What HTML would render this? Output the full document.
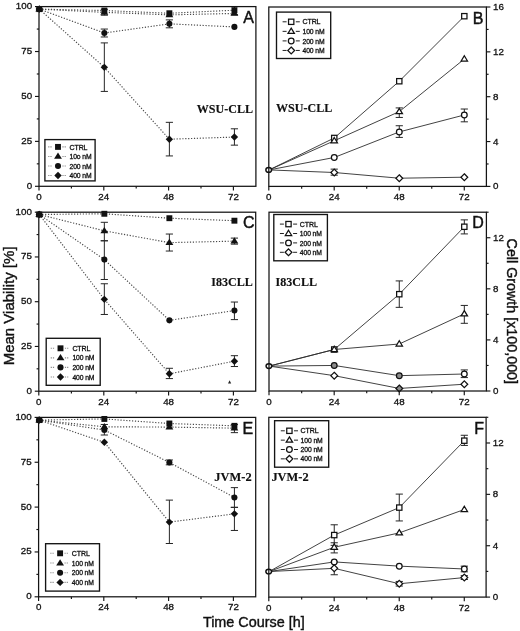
<!DOCTYPE html>
<html><head><meta charset="utf-8"><title>Figure</title>
<style>
html,body{margin:0;padding:0;background:#fff;}
body{width:520px;height:631px;overflow:hidden;}
svg{display:block;}
</style></head>
<body>
<svg width="520" height="631" viewBox="0 0 520 631">
<rect width="520" height="631" fill="#fff"/>
<g stroke="#262626" stroke-width="1" fill="none">
<line x1="234.42" y1="6.6" x2="234.42" y2="14.69"/><line x1="230.82" y1="6.6" x2="238.02" y2="6.6"/><line x1="230.82" y1="14.69" x2="238.02" y2="14.69"/>
<line x1="104.34" y1="9.3" x2="104.34" y2="15.23"/><line x1="100.74" y1="9.3" x2="107.94" y2="9.3"/><line x1="100.74" y1="15.23" x2="107.94" y2="15.23"/>
<line x1="104.34" y1="29.06" x2="104.34" y2="36.97"/><line x1="100.74" y1="29.06" x2="107.94" y2="29.06"/><line x1="100.74" y1="36.97" x2="107.94" y2="36.97"/>
<line x1="169.38" y1="19.9" x2="169.38" y2="27.8"/><line x1="165.78" y1="19.9" x2="172.98" y2="19.9"/><line x1="165.78" y1="27.8" x2="172.98" y2="27.8"/>
<line x1="104.34" y1="42.9" x2="104.34" y2="91.42"/><line x1="100.74" y1="42.9" x2="107.94" y2="42.9"/><line x1="100.74" y1="91.42" x2="107.94" y2="91.42"/>
<line x1="169.38" y1="122.33" x2="169.38" y2="155.93"/><line x1="165.78" y1="122.33" x2="172.98" y2="122.33"/><line x1="165.78" y1="155.93" x2="172.98" y2="155.93"/>
<line x1="234.42" y1="128.8" x2="234.42" y2="145.15"/><line x1="230.82" y1="128.8" x2="238.02" y2="128.8"/><line x1="230.82" y1="145.15" x2="238.02" y2="145.15"/>
</g>
<g stroke="#484848" stroke-width="1.15" fill="none" stroke-dasharray="1.2 1.7">
<polyline points="39.3,9.12 104.34,10.55 169.38,13.25 234.42,10.19"/>
<polyline points="39.3,9.12 104.34,12.35 169.38,14.87 234.42,13.43"/>
<polyline points="39.3,9.12 104.34,33.02 169.38,23.85 234.42,26.91"/>
<polyline points="39.3,9.12 104.34,67.34 169.38,139.22 234.42,137.06"/>
</g>
<rect x="36.35" y="6.17" width="5.9" height="5.9" fill="#111" stroke="#111" stroke-width="0"/>
<rect x="101.39" y="7.6" width="5.9" height="5.9" fill="#111" stroke="#111" stroke-width="0"/>
<rect x="166.43" y="10.3" width="5.9" height="5.9" fill="#111" stroke="#111" stroke-width="0"/>
<rect x="231.47" y="7.24" width="5.9" height="5.9" fill="#111" stroke="#111" stroke-width="0"/>
<polygon points="39.3,5.27 43.23,11.5 35.37,11.5" fill="#111" stroke="#111" stroke-width="0" stroke-linejoin="miter"/>
<polygon points="104.34,8.5 108.27,14.74 100.41,14.74" fill="#111" stroke="#111" stroke-width="0" stroke-linejoin="miter"/>
<polygon points="169.38,11.02 173.31,17.25 165.45,17.25" fill="#111" stroke="#111" stroke-width="0" stroke-linejoin="miter"/>
<polygon points="234.42,9.58 238.35,15.82 230.49,15.82" fill="#111" stroke="#111" stroke-width="0" stroke-linejoin="miter"/>
<circle cx="39.3" cy="9.12" r="3.05" fill="#111" stroke="#111" stroke-width="0"/>
<circle cx="104.34" cy="33.02" r="3.05" fill="#111" stroke="#111" stroke-width="0"/>
<circle cx="169.38" cy="23.85" r="3.05" fill="#111" stroke="#111" stroke-width="0"/>
<circle cx="234.42" cy="26.91" r="3.05" fill="#111" stroke="#111" stroke-width="0"/>
<polygon points="39.3,5.42 43,9.12 39.3,12.82 35.6,9.12" fill="#111" stroke="#111" stroke-width="0"/>
<polygon points="104.34,63.64 108.04,67.34 104.34,71.04 100.64,67.34" fill="#111" stroke="#111" stroke-width="0"/>
<polygon points="169.38,135.52 173.08,139.22 169.38,142.92 165.68,139.22" fill="#111" stroke="#111" stroke-width="0"/>
<polygon points="234.42,133.36 238.12,137.06 234.42,140.76 230.72,137.06" fill="#111" stroke="#111" stroke-width="0"/>
<rect x="39" y="6.6" width="216.9" height="179.7" fill="none" stroke="#141414" stroke-width="1.25"/>
<g stroke="#141414" stroke-width="1.15">
<line x1="39" y1="186.3" x2="39" y2="190.5"/>
<line x1="71.4" y1="186.3" x2="71.4" y2="188.6"/>
<line x1="103.8" y1="186.3" x2="103.8" y2="190.5"/>
<line x1="136.2" y1="186.3" x2="136.2" y2="188.6"/>
<line x1="168.6" y1="186.3" x2="168.6" y2="190.5"/>
<line x1="201" y1="186.3" x2="201" y2="188.6"/>
<line x1="233.4" y1="186.3" x2="233.4" y2="190.5"/>
<line x1="35" y1="186.3" x2="39" y2="186.3"/>
<line x1="36.8" y1="163.84" x2="39" y2="163.84"/>
<line x1="35" y1="141.38" x2="39" y2="141.38"/>
<line x1="36.8" y1="118.91" x2="39" y2="118.91"/>
<line x1="35" y1="96.45" x2="39" y2="96.45"/>
<line x1="36.8" y1="73.99" x2="39" y2="73.99"/>
<line x1="35" y1="51.53" x2="39" y2="51.53"/>
<line x1="36.8" y1="29.06" x2="39" y2="29.06"/>
<line x1="35" y1="6.6" x2="39" y2="6.6"/>
</g>
<g font-family="Liberation Sans, Arial, Helvetica, sans-serif" font-size="9.5" fill="#111" stroke="#111" stroke-width="0.3">
<text transform="translate(39,199.9) scale(1.03,1)" text-anchor="middle">0</text>
<text transform="translate(103.8,199.9) scale(1.03,1)" text-anchor="middle">24</text>
<text transform="translate(168.6,199.9) scale(1.03,1)" text-anchor="middle">48</text>
<text transform="translate(233.4,199.9) scale(1.03,1)" text-anchor="middle">72</text>
<text transform="translate(32.1,188.8) scale(1.03,1)" text-anchor="end">0</text>
<text transform="translate(32.1,143.88) scale(1.03,1)" text-anchor="end">25</text>
<text transform="translate(32.1,98.95) scale(1.03,1)" text-anchor="end">50</text>
<text transform="translate(32.1,54.03) scale(1.03,1)" text-anchor="end">75</text>
<text transform="translate(32.1,9.1) scale(1.03,1)" text-anchor="end">100</text>
</g>
<text x="243.2" y="22.8" font-family="Liberation Sans, Arial, Helvetica, sans-serif" font-size="16" fill="#111" stroke="#111" stroke-width="0.45">A</text>
<text transform="translate(196.8,112.8) scale(0.9,1)" font-family="Liberation Serif, Times New Roman, serif" font-weight="bold" font-size="13.4" fill="#111" stroke="#111" stroke-width="0.15">WSU-CLL</text>
<rect x="44.9" y="139.6" width="50.2" height="41.3" fill="#fff" stroke="#141414" stroke-width="1.35"/>
<g stroke="#8a8a8a" stroke-width="1.1" stroke-dasharray="1.2 1"><line x1="48.2" y1="146.9" x2="52.6" y2="146.9"/><line x1="62.4" y1="146.9" x2="66.6" y2="146.9"/></g>
<rect x="55.05" y="143.95" width="5.9" height="5.9" fill="#111" stroke="#111" stroke-width="0"/>
<text transform="translate(69.5,149.5) scale(1,1)" font-family="Liberation Sans, Arial, Helvetica, sans-serif" font-size="7" letter-spacing="-0.1" fill="#111" stroke="#111" stroke-width="0.3">CTRL</text>
<g stroke="#8a8a8a" stroke-width="1.1" stroke-dasharray="1.2 1"><line x1="48.2" y1="156.45" x2="52.6" y2="156.45"/><line x1="62.4" y1="156.45" x2="66.6" y2="156.45"/></g>
<polygon points="58,152.6 61.93,158.84 54.07,158.84" fill="#111" stroke="#111" stroke-width="0" stroke-linejoin="miter"/>
<text transform="translate(69.5,159.05) scale(0.97,1)" font-family="Liberation Sans, Arial, Helvetica, sans-serif" font-size="7" letter-spacing="-0.1" fill="#111" stroke="#111" stroke-width="0.3">10o nM</text>
<g stroke="#8a8a8a" stroke-width="1.1" stroke-dasharray="1.2 1"><line x1="48.2" y1="166" x2="52.6" y2="166"/><line x1="62.4" y1="166" x2="66.6" y2="166"/></g>
<circle cx="58" cy="166" r="3.05" fill="#111" stroke="#111" stroke-width="0"/>
<text transform="translate(69.5,168.6) scale(0.97,1)" font-family="Liberation Sans, Arial, Helvetica, sans-serif" font-size="7" letter-spacing="-0.1" fill="#111" stroke="#111" stroke-width="0.3">200 nM</text>
<g stroke="#8a8a8a" stroke-width="1.1" stroke-dasharray="1.2 1"><line x1="48.2" y1="175.55" x2="52.6" y2="175.55"/><line x1="62.4" y1="175.55" x2="66.6" y2="175.55"/></g>
<polygon points="58,171.85 61.7,175.55 58,179.25 54.3,175.55" fill="#111" stroke="#111" stroke-width="0"/>
<text transform="translate(69.5,178.15) scale(0.97,1)" font-family="Liberation Sans, Arial, Helvetica, sans-serif" font-size="7" letter-spacing="-0.1" fill="#111" stroke="#111" stroke-width="0.3">400 nM</text>
<g stroke="#262626" stroke-width="1" fill="none">
<line x1="104.34" y1="222.3" x2="104.34" y2="240.77"/><line x1="100.74" y1="222.3" x2="107.94" y2="222.3"/><line x1="100.74" y1="240.77" x2="107.94" y2="240.77"/>
<line x1="169.38" y1="234.04" x2="169.38" y2="251.04"/><line x1="165.78" y1="234.04" x2="172.98" y2="234.04"/><line x1="165.78" y1="251.04" x2="172.98" y2="251.04"/>
<line x1="234.42" y1="238.1" x2="234.42" y2="244.15"/><line x1="230.82" y1="238.1" x2="238.02" y2="238.1"/><line x1="230.82" y1="244.15" x2="238.02" y2="244.15"/>
<line x1="104.34" y1="240.77" x2="104.34" y2="279.49"/><line x1="100.74" y1="240.77" x2="107.94" y2="240.77"/><line x1="100.74" y1="279.49" x2="107.94" y2="279.49"/>
<line x1="234.42" y1="302.04" x2="234.42" y2="319.62"/><line x1="230.82" y1="302.04" x2="238.02" y2="302.04"/><line x1="230.82" y1="319.62" x2="238.02" y2="319.62"/>
<line x1="104.34" y1="283.75" x2="104.34" y2="314.48"/><line x1="100.74" y1="283.75" x2="107.94" y2="283.75"/><line x1="100.74" y1="314.48" x2="107.94" y2="314.48"/>
<line x1="169.38" y1="368.29" x2="169.38" y2="378.58"/><line x1="165.78" y1="368.29" x2="172.98" y2="368.29"/><line x1="165.78" y1="378.58" x2="172.98" y2="378.58"/>
<line x1="234.42" y1="355.69" x2="234.42" y2="366.52"/><line x1="230.82" y1="355.69" x2="238.02" y2="355.69"/><line x1="230.82" y1="366.52" x2="238.02" y2="366.52"/>
</g>
<g stroke="#484848" stroke-width="1.15" fill="none" stroke-dasharray="1.2 1.7">
<polyline points="39.3,214.49 104.34,213.78 169.38,218.21 234.42,220.7"/>
<polyline points="39.3,214.49 104.34,230.83 169.38,242.63 234.42,241.13"/>
<polyline points="39.3,214.49 104.34,259.6 169.38,320.33 234.42,310.56"/>
<polyline points="39.3,214.49 104.34,299.37 169.38,373.8 234.42,361.18"/>
</g>
<rect x="36.35" y="211.54" width="5.9" height="5.9" fill="#111" stroke="#111" stroke-width="0"/>
<rect x="101.39" y="210.83" width="5.9" height="5.9" fill="#111" stroke="#111" stroke-width="0"/>
<rect x="166.43" y="215.26" width="5.9" height="5.9" fill="#111" stroke="#111" stroke-width="0"/>
<rect x="231.47" y="217.75" width="5.9" height="5.9" fill="#111" stroke="#111" stroke-width="0"/>
<polygon points="39.3,210.64 43.23,216.88 35.37,216.88" fill="#111" stroke="#111" stroke-width="0" stroke-linejoin="miter"/>
<polygon points="104.34,226.98 108.27,233.22 100.41,233.22" fill="#111" stroke="#111" stroke-width="0" stroke-linejoin="miter"/>
<polygon points="169.38,238.78 173.31,245.02 165.45,245.02" fill="#111" stroke="#111" stroke-width="0" stroke-linejoin="miter"/>
<polygon points="234.42,237.28 238.35,243.51 230.49,243.51" fill="#111" stroke="#111" stroke-width="0" stroke-linejoin="miter"/>
<circle cx="39.3" cy="214.49" r="3.05" fill="#111" stroke="#111" stroke-width="0"/>
<circle cx="104.34" cy="259.6" r="3.05" fill="#111" stroke="#111" stroke-width="0"/>
<circle cx="169.38" cy="320.33" r="3.05" fill="#111" stroke="#111" stroke-width="0"/>
<circle cx="234.42" cy="310.56" r="3.05" fill="#111" stroke="#111" stroke-width="0"/>
<polygon points="39.3,210.79 43,214.49 39.3,218.19 35.6,214.49" fill="#111" stroke="#111" stroke-width="0"/>
<polygon points="104.34,295.67 108.04,299.37 104.34,303.07 100.64,299.37" fill="#111" stroke="#111" stroke-width="0"/>
<polygon points="169.38,370.1 173.08,373.8 169.38,377.5 165.68,373.8" fill="#111" stroke="#111" stroke-width="0"/>
<polygon points="234.42,357.48 238.12,361.18 234.42,364.88 230.72,361.18" fill="#111" stroke="#111" stroke-width="0"/>
<rect x="38.8" y="212.2" width="216.9" height="179" fill="none" stroke="#141414" stroke-width="1.25"/>
<g stroke="#141414" stroke-width="1.15">
<line x1="38.8" y1="391.2" x2="38.8" y2="395.4"/>
<line x1="71.4" y1="391.2" x2="71.4" y2="393.5"/>
<line x1="103.8" y1="391.2" x2="103.8" y2="395.4"/>
<line x1="136.2" y1="391.2" x2="136.2" y2="393.5"/>
<line x1="168.6" y1="391.2" x2="168.6" y2="395.4"/>
<line x1="201" y1="391.2" x2="201" y2="393.5"/>
<line x1="233.4" y1="391.2" x2="233.4" y2="395.4"/>
<line x1="34.8" y1="391.2" x2="38.8" y2="391.2"/>
<line x1="36.6" y1="368.82" x2="38.8" y2="368.82"/>
<line x1="34.8" y1="346.45" x2="38.8" y2="346.45"/>
<line x1="36.6" y1="324.07" x2="38.8" y2="324.07"/>
<line x1="34.8" y1="301.7" x2="38.8" y2="301.7"/>
<line x1="36.6" y1="279.32" x2="38.8" y2="279.32"/>
<line x1="34.8" y1="256.95" x2="38.8" y2="256.95"/>
<line x1="36.6" y1="234.57" x2="38.8" y2="234.57"/>
<line x1="34.8" y1="212.2" x2="38.8" y2="212.2"/>
</g>
<g font-family="Liberation Sans, Arial, Helvetica, sans-serif" font-size="9.5" fill="#111" stroke="#111" stroke-width="0.3">
<text transform="translate(38.8,404.8) scale(1.03,1)" text-anchor="middle">0</text>
<text transform="translate(103.8,404.8) scale(1.03,1)" text-anchor="middle">24</text>
<text transform="translate(168.6,404.8) scale(1.03,1)" text-anchor="middle">48</text>
<text transform="translate(233.4,404.8) scale(1.03,1)" text-anchor="middle">72</text>
<text transform="translate(31.9,393.7) scale(1.03,1)" text-anchor="end">0</text>
<text transform="translate(31.9,348.95) scale(1.03,1)" text-anchor="end">25</text>
<text transform="translate(31.9,304.2) scale(1.03,1)" text-anchor="end">50</text>
<text transform="translate(31.9,259.45) scale(1.03,1)" text-anchor="end">75</text>
<text transform="translate(31.9,214.7) scale(1.03,1)" text-anchor="end">100</text>
</g>
<text x="243.1" y="227.5" font-family="Liberation Sans, Arial, Helvetica, sans-serif" font-size="16" fill="#111" stroke="#111" stroke-width="0.45">C</text>
<text transform="translate(211.2,286.1) scale(0.9,1)" font-family="Liberation Serif, Times New Roman, serif" font-weight="bold" font-size="13.4" fill="#111" stroke="#111" stroke-width="0.15">I83CLL</text>
<rect x="46.2" y="338.3" width="54" height="47" fill="#fff" stroke="#141414" stroke-width="1.35"/>
<g stroke="#8a8a8a" stroke-width="1.1" stroke-dasharray="1.2 1"><line x1="50.7" y1="348.3" x2="55.1" y2="348.3"/><line x1="64.9" y1="348.3" x2="69.1" y2="348.3"/></g>
<rect x="57.55" y="345.35" width="5.9" height="5.9" fill="#111" stroke="#111" stroke-width="0"/>
<text transform="translate(72.4,350.9) scale(1,1)" font-family="Liberation Sans, Arial, Helvetica, sans-serif" font-size="7" letter-spacing="-0.1" fill="#111" stroke="#111" stroke-width="0.3">CTRL</text>
<g stroke="#8a8a8a" stroke-width="1.1" stroke-dasharray="1.2 1"><line x1="50.7" y1="357.85" x2="55.1" y2="357.85"/><line x1="64.9" y1="357.85" x2="69.1" y2="357.85"/></g>
<polygon points="60.5,354 64.43,360.24 56.57,360.24" fill="#111" stroke="#111" stroke-width="0" stroke-linejoin="miter"/>
<text transform="translate(72.4,360.45) scale(0.97,1)" font-family="Liberation Sans, Arial, Helvetica, sans-serif" font-size="7" letter-spacing="-0.1" fill="#111" stroke="#111" stroke-width="0.3">100 nM</text>
<g stroke="#8a8a8a" stroke-width="1.1" stroke-dasharray="1.2 1"><line x1="50.7" y1="367.4" x2="55.1" y2="367.4"/><line x1="64.9" y1="367.4" x2="69.1" y2="367.4"/></g>
<circle cx="60.5" cy="367.4" r="3.05" fill="#111" stroke="#111" stroke-width="0"/>
<text transform="translate(72.4,370) scale(0.97,1)" font-family="Liberation Sans, Arial, Helvetica, sans-serif" font-size="7" letter-spacing="-0.1" fill="#111" stroke="#111" stroke-width="0.3">200 nM</text>
<g stroke="#8a8a8a" stroke-width="1.1" stroke-dasharray="1.2 1"><line x1="50.7" y1="376.95" x2="55.1" y2="376.95"/><line x1="64.9" y1="376.95" x2="69.1" y2="376.95"/></g>
<polygon points="60.5,373.25 64.2,376.95 60.5,380.65 56.8,376.95" fill="#111" stroke="#111" stroke-width="0"/>
<text transform="translate(72.4,379.55) scale(0.97,1)" font-family="Liberation Sans, Arial, Helvetica, sans-serif" font-size="7" letter-spacing="-0.1" fill="#111" stroke="#111" stroke-width="0.3">400 nM</text>
<g stroke="#262626" stroke-width="1" fill="none">
<line x1="234.42" y1="424.58" x2="234.42" y2="432.65"/><line x1="230.82" y1="424.58" x2="238.02" y2="424.58"/><line x1="230.82" y1="432.65" x2="238.02" y2="432.65"/>
<line x1="104.34" y1="424.47" x2="104.34" y2="435"/><line x1="100.74" y1="424.47" x2="107.94" y2="424.47"/><line x1="100.74" y1="435" x2="107.94" y2="435"/>
<line x1="169.38" y1="459.97" x2="169.38" y2="464.8"/><line x1="165.78" y1="459.97" x2="172.98" y2="459.97"/><line x1="165.78" y1="464.8" x2="172.98" y2="464.8"/>
<line x1="234.42" y1="487.64" x2="234.42" y2="507.26"/><line x1="230.82" y1="487.64" x2="238.02" y2="487.64"/><line x1="230.82" y1="507.26" x2="238.02" y2="507.26"/>
<line x1="169.38" y1="500.12" x2="169.38" y2="543.5"/><line x1="165.78" y1="500.12" x2="172.98" y2="500.12"/><line x1="165.78" y1="543.5" x2="172.98" y2="543.5"/>
<line x1="234.42" y1="507.44" x2="234.42" y2="530.46"/><line x1="230.82" y1="507.44" x2="238.02" y2="507.44"/><line x1="230.82" y1="530.46" x2="238.02" y2="530.46"/>
</g>
<g stroke="#484848" stroke-width="1.15" fill="none" stroke-dasharray="1.2 1.7">
<polyline points="39.3,420.09 104.34,418.94 169.38,423.5 234.42,425.83"/>
<polyline points="39.3,420.09 104.34,426.78 169.38,427.09 234.42,428.16"/>
<polyline points="39.3,420.09 104.34,429.99 169.38,462.48 234.42,497.45"/>
<polyline points="39.3,420.09 104.34,442.32 169.38,522.08 234.42,513.86"/>
</g>
<rect x="36.35" y="417.14" width="5.9" height="5.9" fill="#111" stroke="#111" stroke-width="0"/>
<rect x="101.39" y="415.99" width="5.9" height="5.9" fill="#111" stroke="#111" stroke-width="0"/>
<rect x="166.43" y="420.55" width="5.9" height="5.9" fill="#111" stroke="#111" stroke-width="0"/>
<rect x="231.47" y="422.88" width="5.9" height="5.9" fill="#111" stroke="#111" stroke-width="0"/>
<polygon points="39.3,416.24 43.23,422.48 35.37,422.48" fill="#111" stroke="#111" stroke-width="0" stroke-linejoin="miter"/>
<polygon points="104.34,422.93 108.27,429.17 100.41,429.17" fill="#111" stroke="#111" stroke-width="0" stroke-linejoin="miter"/>
<polygon points="169.38,423.24 173.31,429.47 165.45,429.47" fill="#111" stroke="#111" stroke-width="0" stroke-linejoin="miter"/>
<polygon points="234.42,424.31 238.35,430.55 230.49,430.55" fill="#111" stroke="#111" stroke-width="0" stroke-linejoin="miter"/>
<circle cx="39.3" cy="420.09" r="3.05" fill="#111" stroke="#111" stroke-width="0"/>
<circle cx="104.34" cy="429.99" r="3.05" fill="#111" stroke="#111" stroke-width="0"/>
<circle cx="169.38" cy="462.48" r="3.05" fill="#111" stroke="#111" stroke-width="0"/>
<circle cx="234.42" cy="497.45" r="3.05" fill="#111" stroke="#111" stroke-width="0"/>
<polygon points="39.3,416.39 43,420.09 39.3,423.79 35.6,420.09" fill="#111" stroke="#111" stroke-width="0"/>
<polygon points="104.34,438.62 108.04,442.32 104.34,446.02 100.64,442.32" fill="#111" stroke="#111" stroke-width="0"/>
<polygon points="169.38,518.38 173.08,522.08 169.38,525.78 165.68,522.08" fill="#111" stroke="#111" stroke-width="0"/>
<polygon points="234.42,510.16 238.12,513.86 234.42,517.56 230.72,513.86" fill="#111" stroke="#111" stroke-width="0"/>
<rect x="38.6" y="417.4" width="217.1" height="179.4" fill="none" stroke="#141414" stroke-width="1.25"/>
<g stroke="#141414" stroke-width="1.15">
<line x1="38.6" y1="596.8" x2="38.6" y2="601"/>
<line x1="71.4" y1="596.8" x2="71.4" y2="599.1"/>
<line x1="103.8" y1="596.8" x2="103.8" y2="601"/>
<line x1="136.2" y1="596.8" x2="136.2" y2="599.1"/>
<line x1="168.6" y1="596.8" x2="168.6" y2="601"/>
<line x1="201" y1="596.8" x2="201" y2="599.1"/>
<line x1="233.4" y1="596.8" x2="233.4" y2="601"/>
<line x1="34.6" y1="596.8" x2="38.6" y2="596.8"/>
<line x1="36.4" y1="574.38" x2="38.6" y2="574.38"/>
<line x1="34.6" y1="551.95" x2="38.6" y2="551.95"/>
<line x1="36.4" y1="529.52" x2="38.6" y2="529.52"/>
<line x1="34.6" y1="507.1" x2="38.6" y2="507.1"/>
<line x1="36.4" y1="484.67" x2="38.6" y2="484.67"/>
<line x1="34.6" y1="462.25" x2="38.6" y2="462.25"/>
<line x1="36.4" y1="439.82" x2="38.6" y2="439.82"/>
<line x1="34.6" y1="417.4" x2="38.6" y2="417.4"/>
</g>
<g font-family="Liberation Sans, Arial, Helvetica, sans-serif" font-size="9.5" fill="#111" stroke="#111" stroke-width="0.3">
<text transform="translate(38.6,610.4) scale(1.03,1)" text-anchor="middle">0</text>
<text transform="translate(103.8,610.4) scale(1.03,1)" text-anchor="middle">24</text>
<text transform="translate(168.6,610.4) scale(1.03,1)" text-anchor="middle">48</text>
<text transform="translate(233.4,610.4) scale(1.03,1)" text-anchor="middle">72</text>
<text transform="translate(31.7,599.3) scale(1.03,1)" text-anchor="end">0</text>
<text transform="translate(31.7,554.45) scale(1.03,1)" text-anchor="end">25</text>
<text transform="translate(31.7,509.6) scale(1.03,1)" text-anchor="end">50</text>
<text transform="translate(31.7,464.75) scale(1.03,1)" text-anchor="end">75</text>
<text transform="translate(31.7,419.9) scale(1.03,1)" text-anchor="end">100</text>
</g>
<text x="242.6" y="434.2" font-family="Liberation Sans, Arial, Helvetica, sans-serif" font-size="16" fill="#111" stroke="#111" stroke-width="0.45">E</text>
<text transform="translate(214.3,480.6) scale(0.93,1)" font-family="Liberation Serif, Times New Roman, serif" font-weight="bold" font-size="13.4" fill="#111" stroke="#111" stroke-width="0.15">JVM-2</text>
<rect x="45.6" y="543.7" width="53.9" height="47.4" fill="#fff" stroke="#141414" stroke-width="1.35"/>
<g stroke="#8a8a8a" stroke-width="1.1" stroke-dasharray="1.2 1"><line x1="50.3" y1="553.3" x2="54.7" y2="553.3"/><line x1="64.5" y1="553.3" x2="68.7" y2="553.3"/></g>
<rect x="57.15" y="550.35" width="5.9" height="5.9" fill="#111" stroke="#111" stroke-width="0"/>
<text transform="translate(71.8,555.9) scale(1,1)" font-family="Liberation Sans, Arial, Helvetica, sans-serif" font-size="7" letter-spacing="-0.1" fill="#111" stroke="#111" stroke-width="0.3">CTRL</text>
<g stroke="#8a8a8a" stroke-width="1.1" stroke-dasharray="1.2 1"><line x1="50.3" y1="563" x2="54.7" y2="563"/><line x1="64.5" y1="563" x2="68.7" y2="563"/></g>
<polygon points="60.1,559.15 64.03,565.39 56.17,565.39" fill="#111" stroke="#111" stroke-width="0" stroke-linejoin="miter"/>
<text transform="translate(71.8,565.6) scale(0.97,1)" font-family="Liberation Sans, Arial, Helvetica, sans-serif" font-size="7" letter-spacing="-0.1" fill="#111" stroke="#111" stroke-width="0.3">100 nM</text>
<g stroke="#8a8a8a" stroke-width="1.1" stroke-dasharray="1.2 1"><line x1="50.3" y1="572.7" x2="54.7" y2="572.7"/><line x1="64.5" y1="572.7" x2="68.7" y2="572.7"/></g>
<circle cx="60.1" cy="572.7" r="3.05" fill="#111" stroke="#111" stroke-width="0"/>
<text transform="translate(71.8,575.3) scale(0.97,1)" font-family="Liberation Sans, Arial, Helvetica, sans-serif" font-size="7" letter-spacing="-0.1" fill="#111" stroke="#111" stroke-width="0.3">200 nM</text>
<g stroke="#8a8a8a" stroke-width="1.1" stroke-dasharray="1.2 1"><line x1="50.3" y1="582.4" x2="54.7" y2="582.4"/><line x1="64.5" y1="582.4" x2="68.7" y2="582.4"/></g>
<polygon points="60.1,578.7 63.8,582.4 60.1,586.1 56.4,582.4" fill="#111" stroke="#111" stroke-width="0"/>
<text transform="translate(71.8,585) scale(0.97,1)" font-family="Liberation Sans, Arial, Helvetica, sans-serif" font-size="7" letter-spacing="-0.1" fill="#111" stroke="#111" stroke-width="0.3">400 nM</text>
<g stroke="#262626" stroke-width="1" fill="none">
<line x1="399.28" y1="107.91" x2="399.28" y2="117.44"/><line x1="395.68" y1="107.91" x2="402.88" y2="107.91"/><line x1="395.68" y1="117.44" x2="402.88" y2="117.44"/>
<line x1="399.28" y1="125.74" x2="399.28" y2="137.4"/><line x1="395.68" y1="125.74" x2="402.88" y2="125.74"/><line x1="395.68" y1="137.4" x2="402.88" y2="137.4"/>
<line x1="464.32" y1="109.03" x2="464.32" y2="121.82"/><line x1="460.72" y1="109.03" x2="467.92" y2="109.03"/><line x1="460.72" y1="121.82" x2="467.92" y2="121.82"/>
<line x1="334.24" y1="169.13" x2="334.24" y2="175.19"/><line x1="330.64" y1="169.13" x2="337.84" y2="169.13"/><line x1="330.64" y1="175.19" x2="337.84" y2="175.19"/>
</g>
<g stroke="#2e2e2e" stroke-width="0.9" fill="none">
<polyline points="269.2,169.92 334.24,137.96 399.28,81.23 464.32,16.19"/>
<polyline points="269.2,169.92 334.24,140.77 399.28,111.61 464.32,59.03"/>
<polyline points="269.2,169.92 334.24,157.47 399.28,131.91 464.32,114.98"/>
<polyline points="269.2,169.92 334.24,172.5 399.28,178.21 464.32,177.21"/>
</g>
<rect x="331.59" y="135.31" width="5.3" height="5.3" fill="#fff" stroke="#111" stroke-width="1.25"/>
<rect x="396.63" y="78.58" width="5.3" height="5.3" fill="#fff" stroke="#111" stroke-width="1.25"/>
<rect x="461.67" y="13.54" width="5.3" height="5.3" fill="#fff" stroke="#111" stroke-width="1.25"/>
<polygon points="334.24,137.52 337.43,142.78 331.06,142.78" fill="#fff" stroke="#111" stroke-width="1.25" stroke-linejoin="miter"/>
<polygon points="399.28,108.36 402.46,113.63 396.09,113.63" fill="#fff" stroke="#111" stroke-width="1.25" stroke-linejoin="miter"/>
<polygon points="464.32,55.78 467.5,61.04 461.13,61.04" fill="#fff" stroke="#111" stroke-width="1.25" stroke-linejoin="miter"/>
<circle cx="334.24" cy="157.47" r="2.85" fill="#fff" stroke="#111" stroke-width="1.25"/>
<circle cx="399.28" cy="131.91" r="2.85" fill="#fff" stroke="#111" stroke-width="1.25"/>
<circle cx="464.32" cy="114.98" r="2.85" fill="#fff" stroke="#111" stroke-width="1.25"/>
<polygon points="334.24,169.1 337.64,172.5 334.24,175.9 330.84,172.5" fill="#fff" stroke="#111" stroke-width="1.25"/>
<polygon points="399.28,174.81 402.68,178.21 399.28,181.61 395.88,178.21" fill="#fff" stroke="#111" stroke-width="1.25"/>
<polygon points="464.32,173.81 467.72,177.21 464.32,180.61 460.92,177.21" fill="#fff" stroke="#111" stroke-width="1.25"/>
<ellipse cx="268.7" cy="169.92" rx="2.85" ry="2.35" fill="#fff" stroke="#111" stroke-width="1.45"/>
<rect x="268.8" y="7" width="217.6" height="179.4" fill="none" stroke="#141414" stroke-width="1.25"/>
<g stroke="#141414" stroke-width="1.15">
<line x1="268.8" y1="186.4" x2="268.8" y2="190.6"/>
<line x1="301.67" y1="186.4" x2="301.67" y2="188.7"/>
<line x1="334.19" y1="186.4" x2="334.19" y2="190.6"/>
<line x1="366.71" y1="186.4" x2="366.71" y2="188.7"/>
<line x1="399.23" y1="186.4" x2="399.23" y2="190.6"/>
<line x1="431.75" y1="186.4" x2="431.75" y2="188.7"/>
<line x1="464.27" y1="186.4" x2="464.27" y2="190.6"/>
<line x1="486.4" y1="186.4" x2="490.4" y2="186.4"/>
<line x1="486.4" y1="163.97" x2="488.6" y2="163.97"/>
<line x1="486.4" y1="141.55" x2="490.4" y2="141.55"/>
<line x1="486.4" y1="119.12" x2="488.6" y2="119.12"/>
<line x1="486.4" y1="96.7" x2="490.4" y2="96.7"/>
<line x1="486.4" y1="74.28" x2="488.6" y2="74.28"/>
<line x1="486.4" y1="51.85" x2="490.4" y2="51.85"/>
<line x1="486.4" y1="29.43" x2="488.6" y2="29.43"/>
<line x1="486.4" y1="7" x2="490.4" y2="7"/>
</g>
<g font-family="Liberation Sans, Arial, Helvetica, sans-serif" font-size="9.5" fill="#111" stroke="#111" stroke-width="0.3">
<text transform="translate(268.8,200) scale(1.03,1)" text-anchor="middle">0</text>
<text transform="translate(334.19,200) scale(1.03,1)" text-anchor="middle">24</text>
<text transform="translate(399.23,200) scale(1.03,1)" text-anchor="middle">48</text>
<text transform="translate(464.27,200) scale(1.03,1)" text-anchor="middle">72</text>
<text transform="translate(493,189.4) scale(1.03,1)">0</text>
<text transform="translate(493,144.55) scale(1.03,1)">4</text>
<text transform="translate(493,99.7) scale(1.03,1)">8</text>
<text transform="translate(493,54.85) scale(1.03,1)">12</text>
<text transform="translate(493,10) scale(1.03,1)">16</text>
</g>
<text x="472.8" y="23.9" font-family="Liberation Sans, Arial, Helvetica, sans-serif" font-size="16" fill="#111" stroke="#111" stroke-width="0.45">B</text>
<text transform="translate(276,111.9) scale(0.9,1)" font-family="Liberation Serif, Times New Roman, serif" font-weight="bold" font-size="13.4" fill="#111" stroke="#111" stroke-width="0.15">WSU-CLL</text>
<rect x="276.5" y="12.1" width="54.2" height="46.4" fill="#fff" stroke="#141414" stroke-width="1.35"/>
<g stroke="#222" stroke-width="1"><line x1="282.6" y1="21.8" x2="286.6" y2="21.8"/><line x1="295.8" y1="21.8" x2="299.8" y2="21.8"/></g>
<rect x="288.55" y="19.15" width="5.3" height="5.3" fill="#fff" stroke="#111" stroke-width="1.25"/>
<text transform="translate(302.5,24.4) scale(1,1)" font-family="Liberation Sans, Arial, Helvetica, sans-serif" font-size="7" letter-spacing="-0.1" fill="#111" stroke="#111" stroke-width="0.3">CTRL</text>
<g stroke="#222" stroke-width="1"><line x1="282.6" y1="31.35" x2="286.6" y2="31.35"/><line x1="295.8" y1="31.35" x2="299.8" y2="31.35"/></g>
<polygon points="291.2,28.1 294.38,33.37 288.01,33.37" fill="#fff" stroke="#111" stroke-width="1.25" stroke-linejoin="miter"/>
<text transform="translate(302.5,33.95) scale(0.97,1)" font-family="Liberation Sans, Arial, Helvetica, sans-serif" font-size="7" letter-spacing="-0.1" fill="#111" stroke="#111" stroke-width="0.3">100 nM</text>
<g stroke="#222" stroke-width="1"><line x1="282.6" y1="40.9" x2="286.6" y2="40.9"/><line x1="295.8" y1="40.9" x2="299.8" y2="40.9"/></g>
<circle cx="291.2" cy="40.9" r="2.85" fill="#fff" stroke="#111" stroke-width="1.25"/>
<text transform="translate(302.5,43.5) scale(0.97,1)" font-family="Liberation Sans, Arial, Helvetica, sans-serif" font-size="7" letter-spacing="-0.1" fill="#111" stroke="#111" stroke-width="0.3">200 nM</text>
<g stroke="#222" stroke-width="1"><line x1="282.6" y1="50.45" x2="286.6" y2="50.45"/><line x1="295.8" y1="50.45" x2="299.8" y2="50.45"/></g>
<polygon points="291.2,47.05 294.6,50.45 291.2,53.85 287.8,50.45" fill="#fff" stroke="#111" stroke-width="1.25"/>
<text transform="translate(302.5,53.05) scale(0.97,1)" font-family="Liberation Sans, Arial, Helvetica, sans-serif" font-size="7" letter-spacing="-0.1" fill="#111" stroke="#111" stroke-width="0.3">400 nM</text>
<g stroke="#262626" stroke-width="1" fill="none">
<line x1="399.28" y1="280.91" x2="399.28" y2="307.35"/><line x1="395.68" y1="280.91" x2="402.88" y2="280.91"/><line x1="395.68" y1="307.35" x2="402.88" y2="307.35"/>
<line x1="464.32" y1="219.86" x2="464.32" y2="233.91"/><line x1="460.72" y1="219.86" x2="467.92" y2="219.86"/><line x1="460.72" y1="233.91" x2="467.92" y2="233.91"/>
<line x1="464.32" y1="305.43" x2="464.32" y2="323.31"/><line x1="460.72" y1="305.43" x2="467.92" y2="305.43"/><line x1="460.72" y1="323.31" x2="467.92" y2="323.31"/>
<line x1="464.32" y1="369.93" x2="464.32" y2="377.59"/><line x1="460.72" y1="369.93" x2="467.92" y2="369.93"/><line x1="460.72" y1="377.59" x2="467.92" y2="377.59"/>
</g>
<g stroke="#2e2e2e" stroke-width="0.9" fill="none">
<polyline points="269.2,366.1 334.24,349.49 399.28,294.19 464.32,226.76"/>
<polyline points="269.2,366.1 334.24,349.49 399.28,344 464.32,313.86"/>
<polyline points="269.2,366.1 334.24,365.46 399.28,375.67 464.32,374.01"/>
<polyline points="269.2,366.1 334.24,375.67 399.28,388.45 464.32,384.23"/>
</g>
<rect x="331.59" y="346.84" width="5.3" height="5.3" fill="#fff" stroke="#111" stroke-width="1.25"/>
<rect x="396.63" y="291.54" width="5.3" height="5.3" fill="#fff" stroke="#111" stroke-width="1.25"/>
<rect x="461.67" y="224.11" width="5.3" height="5.3" fill="#fff" stroke="#111" stroke-width="1.25"/>
<polygon points="334.24,346.24 337.43,351.51 331.06,351.51" fill="#fff" stroke="#111" stroke-width="1.25" stroke-linejoin="miter"/>
<polygon points="399.28,340.75 402.46,346.02 396.09,346.02" fill="#fff" stroke="#111" stroke-width="1.25" stroke-linejoin="miter"/>
<polygon points="464.32,310.61 467.5,315.88 461.13,315.88" fill="#fff" stroke="#111" stroke-width="1.25" stroke-linejoin="miter"/>
<circle cx="334.24" cy="365.46" r="2.85" fill="#8c8c8c" stroke="#111" stroke-width="1.25"/>
<circle cx="399.28" cy="375.67" r="2.85" fill="#8c8c8c" stroke="#111" stroke-width="1.25"/>
<circle cx="464.32" cy="374.01" r="2.85" fill="#fff" stroke="#111" stroke-width="1.25"/>
<polygon points="334.24,372.27 337.64,375.67 334.24,379.07 330.84,375.67" fill="#fff" stroke="#111" stroke-width="1.25"/>
<polygon points="399.28,385.05 402.68,388.45 399.28,391.85 395.88,388.45" fill="#8c8c8c" stroke="#111" stroke-width="1.25"/>
<polygon points="464.32,380.83 467.72,384.23 464.32,387.63 460.92,384.23" fill="#fff" stroke="#111" stroke-width="1.25"/>
<ellipse cx="268.9" cy="366.1" rx="2.85" ry="2.35" fill="#fff" stroke="#111" stroke-width="1.45"/>
<rect x="269" y="212.2" width="217.4" height="178.8" fill="none" stroke="#141414" stroke-width="1.25"/>
<g stroke="#141414" stroke-width="1.15">
<line x1="269" y1="391" x2="269" y2="395.2"/>
<line x1="301.67" y1="391" x2="301.67" y2="393.3"/>
<line x1="334.19" y1="391" x2="334.19" y2="395.2"/>
<line x1="366.71" y1="391" x2="366.71" y2="393.3"/>
<line x1="399.23" y1="391" x2="399.23" y2="395.2"/>
<line x1="431.75" y1="391" x2="431.75" y2="393.3"/>
<line x1="464.27" y1="391" x2="464.27" y2="395.2"/>
<line x1="486.4" y1="391" x2="490.4" y2="391"/>
<line x1="486.4" y1="365.46" x2="488.6" y2="365.46"/>
<line x1="486.4" y1="339.91" x2="490.4" y2="339.91"/>
<line x1="486.4" y1="314.37" x2="488.6" y2="314.37"/>
<line x1="486.4" y1="288.83" x2="490.4" y2="288.83"/>
<line x1="486.4" y1="263.29" x2="488.6" y2="263.29"/>
<line x1="486.4" y1="237.74" x2="490.4" y2="237.74"/>
<line x1="486.4" y1="212.2" x2="488.6" y2="212.2"/>
</g>
<g font-family="Liberation Sans, Arial, Helvetica, sans-serif" font-size="9.5" fill="#111" stroke="#111" stroke-width="0.3">
<text transform="translate(269,404.6) scale(1.03,1)" text-anchor="middle">0</text>
<text transform="translate(334.19,404.6) scale(1.03,1)" text-anchor="middle">24</text>
<text transform="translate(399.23,404.6) scale(1.03,1)" text-anchor="middle">48</text>
<text transform="translate(464.27,404.6) scale(1.03,1)" text-anchor="middle">72</text>
<text transform="translate(493,394) scale(1.03,1)">0</text>
<text transform="translate(493,342.91) scale(1.03,1)">4</text>
<text transform="translate(493,291.83) scale(1.03,1)">8</text>
<text transform="translate(493,240.74) scale(1.03,1)">12</text>
</g>
<text x="472.3" y="227.8" font-family="Liberation Sans, Arial, Helvetica, sans-serif" font-size="16" fill="#111" stroke="#111" stroke-width="0.45">D</text>
<text transform="translate(275.5,285.9) scale(0.9,1)" font-family="Liberation Serif, Times New Roman, serif" font-weight="bold" font-size="13.4" fill="#111" stroke="#111" stroke-width="0.15">I83CLL</text>
<rect x="273.8" y="214.5" width="53.6" height="46.3" fill="#fff" stroke="#141414" stroke-width="1.35"/>
<g stroke="#222" stroke-width="1"><line x1="279.9" y1="224.1" x2="283.9" y2="224.1"/><line x1="293.1" y1="224.1" x2="297.1" y2="224.1"/></g>
<rect x="285.85" y="221.45" width="5.3" height="5.3" fill="#fff" stroke="#111" stroke-width="1.25"/>
<text transform="translate(299.8,226.7) scale(1,1)" font-family="Liberation Sans, Arial, Helvetica, sans-serif" font-size="7" letter-spacing="-0.1" fill="#111" stroke="#111" stroke-width="0.3">CTRL</text>
<g stroke="#222" stroke-width="1"><line x1="279.9" y1="233.5" x2="283.9" y2="233.5"/><line x1="293.1" y1="233.5" x2="297.1" y2="233.5"/></g>
<polygon points="288.5,230.25 291.69,235.51 285.31,235.51" fill="#fff" stroke="#111" stroke-width="1.25" stroke-linejoin="miter"/>
<text transform="translate(299.8,236.1) scale(0.97,1)" font-family="Liberation Sans, Arial, Helvetica, sans-serif" font-size="7" letter-spacing="-0.1" fill="#111" stroke="#111" stroke-width="0.3">100 nM</text>
<g stroke="#222" stroke-width="1"><line x1="279.9" y1="242.9" x2="283.9" y2="242.9"/><line x1="293.1" y1="242.9" x2="297.1" y2="242.9"/></g>
<circle cx="288.5" cy="242.9" r="2.85" fill="#fff" stroke="#111" stroke-width="1.25"/>
<text transform="translate(299.8,245.5) scale(0.97,1)" font-family="Liberation Sans, Arial, Helvetica, sans-serif" font-size="7" letter-spacing="-0.1" fill="#111" stroke="#111" stroke-width="0.3">200 nM</text>
<g stroke="#222" stroke-width="1"><line x1="279.9" y1="252.3" x2="283.9" y2="252.3"/><line x1="293.1" y1="252.3" x2="297.1" y2="252.3"/></g>
<polygon points="288.5,248.9 291.9,252.3 288.5,255.7 285.1,252.3" fill="#fff" stroke="#111" stroke-width="1.25"/>
<text transform="translate(299.8,254.9) scale(0.97,1)" font-family="Liberation Sans, Arial, Helvetica, sans-serif" font-size="7" letter-spacing="-0.1" fill="#111" stroke="#111" stroke-width="0.3">400 nM</text>
<g stroke="#262626" stroke-width="1" fill="none">
<line x1="334.24" y1="524.79" x2="334.24" y2="545.34"/><line x1="330.64" y1="524.79" x2="337.84" y2="524.79"/><line x1="330.64" y1="545.34" x2="337.84" y2="545.34"/>
<line x1="399.28" y1="494.1" x2="399.28" y2="520.94"/><line x1="395.68" y1="494.1" x2="402.88" y2="494.1"/><line x1="395.68" y1="520.94" x2="402.88" y2="520.94"/>
<line x1="464.32" y1="435.28" x2="464.32" y2="445.43"/><line x1="460.72" y1="435.28" x2="467.92" y2="435.28"/><line x1="460.72" y1="445.43" x2="467.92" y2="445.43"/>
<line x1="334.24" y1="542.77" x2="334.24" y2="552.92"/><line x1="330.64" y1="542.77" x2="337.84" y2="542.77"/><line x1="330.64" y1="552.92" x2="337.84" y2="552.92"/>
<line x1="464.32" y1="566.15" x2="464.32" y2="571.8"/><line x1="460.72" y1="566.15" x2="467.92" y2="566.15"/><line x1="460.72" y1="571.8" x2="467.92" y2="571.8"/>
<line x1="334.24" y1="561.91" x2="334.24" y2="574.75"/><line x1="330.64" y1="561.91" x2="337.84" y2="561.91"/><line x1="330.64" y1="574.75" x2="337.84" y2="574.75"/>
<line x1="399.28" y1="581.43" x2="399.28" y2="586.06"/><line x1="395.68" y1="581.43" x2="402.88" y2="581.43"/><line x1="395.68" y1="586.06" x2="402.88" y2="586.06"/>
<line x1="464.32" y1="575.65" x2="464.32" y2="579.51"/><line x1="460.72" y1="575.65" x2="467.92" y2="575.65"/><line x1="460.72" y1="579.51" x2="467.92" y2="579.51"/>
</g>
<g stroke="#2e2e2e" stroke-width="0.9" fill="none">
<polyline points="269.2,571.54 334.24,535.07 399.28,507.59 464.32,440.67"/>
<polyline points="269.2,571.54 334.24,547.27 399.28,532.89 464.32,509.51"/>
<polyline points="269.2,571.54 334.24,561.91 399.28,566.15 464.32,568.97"/>
<polyline points="269.2,571.54 334.24,568.33 399.28,583.74 464.32,577.58"/>
</g>
<rect x="331.59" y="532.42" width="5.3" height="5.3" fill="#fff" stroke="#111" stroke-width="1.25"/>
<rect x="396.63" y="504.94" width="5.3" height="5.3" fill="#fff" stroke="#111" stroke-width="1.25"/>
<rect x="461.67" y="438.02" width="5.3" height="5.3" fill="#fff" stroke="#111" stroke-width="1.25"/>
<polygon points="334.24,544.02 337.43,549.28 331.06,549.28" fill="#fff" stroke="#111" stroke-width="1.25" stroke-linejoin="miter"/>
<polygon points="399.28,529.64 402.46,534.9 396.09,534.9" fill="#fff" stroke="#111" stroke-width="1.25" stroke-linejoin="miter"/>
<polygon points="464.32,506.26 467.5,511.53 461.13,511.53" fill="#fff" stroke="#111" stroke-width="1.25" stroke-linejoin="miter"/>
<circle cx="334.24" cy="561.91" r="2.85" fill="#fff" stroke="#111" stroke-width="1.25"/>
<circle cx="399.28" cy="566.15" r="2.85" fill="#fff" stroke="#111" stroke-width="1.25"/>
<circle cx="464.32" cy="568.97" r="2.85" fill="#fff" stroke="#111" stroke-width="1.25"/>
<polygon points="334.24,564.93 337.64,568.33 334.24,571.73 330.84,568.33" fill="#fff" stroke="#111" stroke-width="1.25"/>
<polygon points="399.28,580.34 402.68,583.74 399.28,587.14 395.88,583.74" fill="#fff" stroke="#111" stroke-width="1.25"/>
<polygon points="464.32,574.18 467.72,577.58 464.32,580.98 460.92,577.58" fill="#fff" stroke="#111" stroke-width="1.25"/>
<ellipse cx="268.7" cy="571.54" rx="2.85" ry="2.35" fill="#fff" stroke="#111" stroke-width="1.45"/>
<rect x="268.8" y="417.3" width="217.3" height="179.8" fill="none" stroke="#141414" stroke-width="1.25"/>
<g stroke="#141414" stroke-width="1.15">
<line x1="268.8" y1="597.1" x2="268.8" y2="601.3"/>
<line x1="301.67" y1="597.1" x2="301.67" y2="599.4"/>
<line x1="334.19" y1="597.1" x2="334.19" y2="601.3"/>
<line x1="366.71" y1="597.1" x2="366.71" y2="599.4"/>
<line x1="399.23" y1="597.1" x2="399.23" y2="601.3"/>
<line x1="431.75" y1="597.1" x2="431.75" y2="599.4"/>
<line x1="464.27" y1="597.1" x2="464.27" y2="601.3"/>
<line x1="486.1" y1="597.1" x2="490.1" y2="597.1"/>
<line x1="486.1" y1="571.41" x2="488.3" y2="571.41"/>
<line x1="486.1" y1="545.73" x2="490.1" y2="545.73"/>
<line x1="486.1" y1="520.04" x2="488.3" y2="520.04"/>
<line x1="486.1" y1="494.36" x2="490.1" y2="494.36"/>
<line x1="486.1" y1="468.67" x2="488.3" y2="468.67"/>
<line x1="486.1" y1="442.99" x2="490.1" y2="442.99"/>
<line x1="486.1" y1="417.3" x2="488.3" y2="417.3"/>
</g>
<g font-family="Liberation Sans, Arial, Helvetica, sans-serif" font-size="9.5" fill="#111" stroke="#111" stroke-width="0.3">
<text transform="translate(268.8,610.7) scale(1.03,1)" text-anchor="middle">0</text>
<text transform="translate(334.19,610.7) scale(1.03,1)" text-anchor="middle">24</text>
<text transform="translate(399.23,610.7) scale(1.03,1)" text-anchor="middle">48</text>
<text transform="translate(464.27,610.7) scale(1.03,1)" text-anchor="middle">72</text>
<text transform="translate(492.7,600.1) scale(1.03,1)">0</text>
<text transform="translate(492.7,548.73) scale(1.03,1)">4</text>
<text transform="translate(492.7,497.36) scale(1.03,1)">8</text>
<text transform="translate(492.7,445.99) scale(1.03,1)">12</text>
</g>
<text x="474.3" y="434" font-family="Liberation Sans, Arial, Helvetica, sans-serif" font-size="16" fill="#111" stroke="#111" stroke-width="0.45">F</text>
<text transform="translate(271.4,480.8) scale(0.93,1)" font-family="Liberation Serif, Times New Roman, serif" font-weight="bold" font-size="13.4" fill="#111" stroke="#111" stroke-width="0.15">JVM-2</text>
<rect x="274.6" y="420.7" width="54.1" height="46.5" fill="#fff" stroke="#141414" stroke-width="1.35"/>
<g stroke="#222" stroke-width="1"><line x1="280.8" y1="430.8" x2="284.8" y2="430.8"/><line x1="294" y1="430.8" x2="298" y2="430.8"/></g>
<rect x="286.75" y="428.15" width="5.3" height="5.3" fill="#fff" stroke="#111" stroke-width="1.25"/>
<text transform="translate(300.6,433.4) scale(1,1)" font-family="Liberation Sans, Arial, Helvetica, sans-serif" font-size="7" letter-spacing="-0.1" fill="#111" stroke="#111" stroke-width="0.3">CTRL</text>
<g stroke="#222" stroke-width="1"><line x1="280.8" y1="440.15" x2="284.8" y2="440.15"/><line x1="294" y1="440.15" x2="298" y2="440.15"/></g>
<polygon points="289.4,436.9 292.58,442.17 286.21,442.17" fill="#fff" stroke="#111" stroke-width="1.25" stroke-linejoin="miter"/>
<text transform="translate(300.6,442.75) scale(0.97,1)" font-family="Liberation Sans, Arial, Helvetica, sans-serif" font-size="7" letter-spacing="-0.1" fill="#111" stroke="#111" stroke-width="0.3">100 nM</text>
<g stroke="#222" stroke-width="1"><line x1="280.8" y1="449.5" x2="284.8" y2="449.5"/><line x1="294" y1="449.5" x2="298" y2="449.5"/></g>
<circle cx="289.4" cy="449.5" r="2.85" fill="#fff" stroke="#111" stroke-width="1.25"/>
<text transform="translate(300.6,452.1) scale(0.97,1)" font-family="Liberation Sans, Arial, Helvetica, sans-serif" font-size="7" letter-spacing="-0.1" fill="#111" stroke="#111" stroke-width="0.3">200 nM</text>
<g stroke="#222" stroke-width="1"><line x1="280.8" y1="458.85" x2="284.8" y2="458.85"/><line x1="294" y1="458.85" x2="298" y2="458.85"/></g>
<polygon points="289.4,455.45 292.8,458.85 289.4,462.25 286,458.85" fill="#fff" stroke="#111" stroke-width="1.25"/>
<text transform="translate(300.6,461.45) scale(0.97,1)" font-family="Liberation Sans, Arial, Helvetica, sans-serif" font-size="7" letter-spacing="-0.1" fill="#111" stroke="#111" stroke-width="0.3">400 nM</text>
<polygon points="229.6,380.2 231.2,383.4 228,383.4" fill="#222"/>
<text x="0" y="0" transform="translate(13.8,305.9) rotate(-90)" text-anchor="middle" font-family="Liberation Sans, Arial, Helvetica, sans-serif" font-size="15" fill="#111" stroke="#111" stroke-width="0.4">Mean Viability [%]</text>
<text x="0" y="0" transform="translate(506.5,311.3) rotate(90)" text-anchor="middle" font-family="Liberation Sans, Arial, Helvetica, sans-serif" font-size="14.3" fill="#111" stroke="#111" stroke-width="0.4">Cell Growth [x100,000]</text>
<text x="253.8" y="627.3" text-anchor="middle" font-family="Liberation Sans, Arial, Helvetica, sans-serif" font-size="14.4" fill="#111" stroke="#111" stroke-width="0.4">Time Course [h]</text>
</svg>
</body></html>
